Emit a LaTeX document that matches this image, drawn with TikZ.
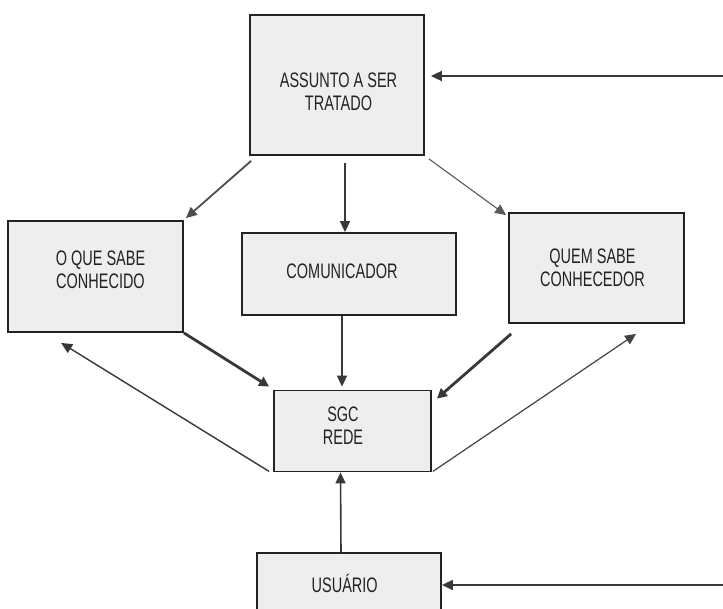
\documentclass[tikz,border=0pt]{standalone}
\usepackage{fontspec}
\setmainfont{Liberation Sans}[FakeStretch=0.69]
\usetikzlibrary{arrows.meta,calc}
\definecolor{boxfill}{HTML}{EEEEEE}
\definecolor{ink}{HTML}{222222}
\begin{document}
\begin{tikzpicture}[x=1pt,y=-1pt,
  box/.style={draw=ink,line width=1.8pt,fill=boxfill,inner sep=0pt},
  lbl/.style={inner sep=0pt,align=center,text=ink,
    font=\fontsize{21}{23}\selectfont},
  link/.style={draw=ink!90,line width=1.6pt,
    -{Triangle[length=11pt,width=10pt]}},
  thinlink/.style={link,draw=ink!75,line width=1.1pt},
  heavylink/.style={link,line width=2.8pt,
    -{Triangle[length=10pt,width=10pt]}}]
\clip (0,0) rectangle (723,608);
\fill[white] (0,0) rectangle (723,608);

% boxes
\node[box,minimum width=174pt,minimum height=140pt] (assunto) at (337,85) {};
\node[box,minimum width=175pt,minimum height=111pt] (oque) at (95.5,276.5) {};
\node[box,minimum width=214pt,minimum height=82pt] (comun) at (349,274) {};
\node[box,minimum width=175pt,minimum height=110pt] (quem) at (596.5,268) {};
\node[box,minimum width=157pt,minimum height=81pt] (sgc) at (352.5,431) {};
\node[box,minimum width=184pt,minimum height=64pt] (usuario) at (349,585) {};

% box texts
\node[lbl] (assuntotext) at (338.5,91.5) {ASSUNTO A SER\\TRATADO};
\node[lbl] (oquetext) at (100.5,270) {O QUE SABE\\CONHECIDO};
\node[lbl] (comuntext) at (342,271.5) {COMUNICADOR};
\node[lbl] (quemtext) at (592.5,267.5) {QUEM SABE\\CONHECEDOR};
\node[lbl] (sgctext) at (343,425.5) {SGC\\REDE};
\node[lbl] (usuariotext) at (344.7,583.5) {USUÁRIO};

% incoming connectors from the right edge
\coordinate (inA) at (723,76);
\coordinate (inU) at (723,585);
\draw[link,line width=1.8pt,shorten >=6pt] (inA) -- (assunto.east |- inA);
\draw[link,line width=1.8pt] (inU) -- (usuario.east |- inU);

% from the subject box
\draw[link] ($(assunto.south)+(8,7)$) -- ($(comun.north)+(-4,0)$);
\draw[link,draw=ink!80,line width=1.8pt] ($(assunto.south west)+(2,5)$) -- ($(oque.north east)+(2,-2)$);
\draw[thinlink] ($(assunto.south east)+(4,3)$) -- ($(quem.north west)+(-2,3)$);

% into the network
\draw[link] ($(comun.south)+(-7,0)$) -- ($(sgc.north)+(-10.5,-3)$);
\draw[heavylink] (oque.south east) -- ($(sgc.north west)+(-4,-3)$);
\draw[heavylink] ($(quem.south west)+(3,10)$) -- ($(sgc.north east)+(5,9)$);
\draw[link] ($(usuario.north)+(-8,0)$) -- ($(sgc.south)+(-12,0)$);

% out of the network
\coordinate (backO) at ($(oque.south west)+(54,10)$);
\coordinate (backQ) at ($(quem.south west)+(128,10)$);
\draw[link,line width=1.4pt] ($(sgc.south west)+(-4,-1)$) -- (backO);
\draw[thinlink,draw=ink!85,line width=1.2pt] ($(sgc.south east)+(1,-1)$) -- (backQ);
\end{tikzpicture}
\end{document}
